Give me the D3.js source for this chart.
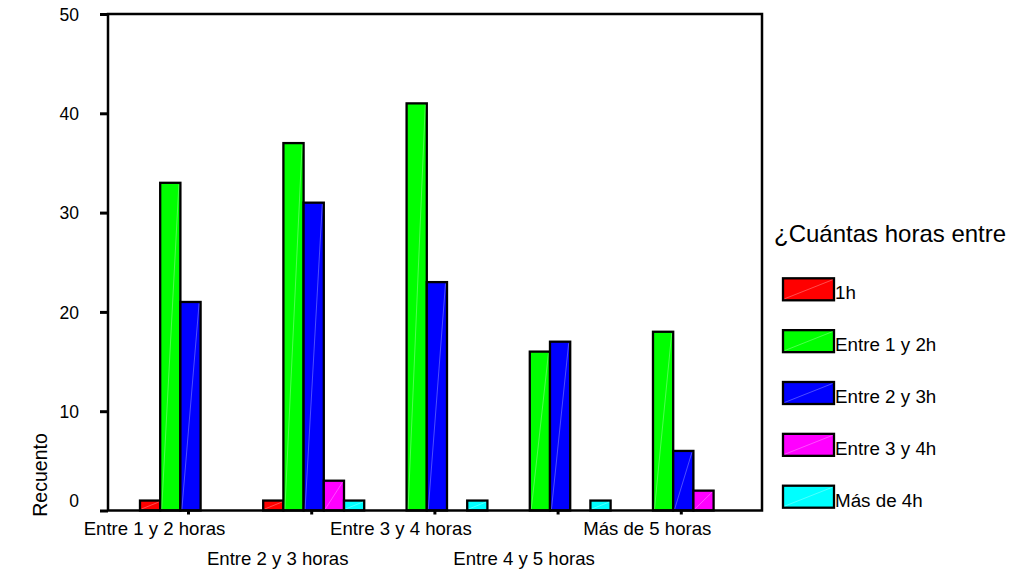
<!DOCTYPE html>
<html>
<head>
<meta charset="utf-8">
<script src="https://cdn.jsdelivr.net/npm/d3@7"></script>
<style>
  html, body { margin: 0; padding: 0; background: #fff; }
  svg { display: block; font-family: Arial, "Liberation Sans", sans-serif; }
</style>
</head>
<body>
<svg id="chart" width="1015" height="572"></svg>
<script>
// ---- data ----
const categories = ["Entre 1 y 2 horas", "Entre 2 y 3 horas", "Entre 3 y 4 horas", "Entre 4 y 5 horas", "Más de 5 horas"];
const seriesNames = ["1h", "Entre 1 y 2h", "Entre 2 y 3h", "Entre 3 y 4h", "Más de 4h"];
const seriesColors = ["#ff0000", "#00ff00", "#0000ff", "#ff00ff", "#00ffff"];
const s1h      = [1, 1, 0, 0, 0];
const s1a2h    = [33, 37, 41, 16, 18];
const s2a3h    = [21, 31, 23, 17, 6];
const s3a4h    = [0, 3, 0, 0, 2];
const sMas4h   = [0, 1, 1, 1, 0];
const yTicks = [0, 10, 20, 30, 40, 50];
const yTitle = "Recuento";
const legendTitle = "¿Cuántas horas entre";

const seriesValues = [s1h, s1a2h, s2a3h, s3a4h, sMas4h];

const svg = d3.select("#chart");

// frame
const L = 108, R = 762, T = 14, B = 510.5;

const x = d3.scaleBand().domain(categories).range([128.9, 744.9]).paddingInner(0.18).paddingOuter(0.09);
const xs = d3.scaleBand().domain(seriesNames).range([0, x.bandwidth()]);
const y = d3.scaleLinear().domain([0, 50]).range([B, T]);
const color = d3.scaleOrdinal().domain(seriesNames).range(seriesColors);

// bars
const barData = [];
categories.forEach((c, i) => {
  seriesNames.forEach((s, j) => {
    const v = seriesValues[j][i];
    if (v > 0) barData.push({ c, s, v });
  });
});

const bars = svg.append("g").selectAll("g").data(barData).join("g");
bars.append("rect")
  .attr("x", d => x(d.c) + xs(d.s))
  .attr("y", d => y(d.v))
  .attr("width", xs.bandwidth())
  .attr("height", d => y(0) - y(d.v))
  .attr("fill", d => color(d.s))
  .attr("stroke", "#000")
  .attr("stroke-width", 2.3);
bars.append("line")
  .attr("x1", d => x(d.c) + xs(d.s) + 1.5)
  .attr("y1", d => y(0) - 1.5)
  .attr("x2", d => x(d.c) + xs(d.s) + xs.bandwidth() - 1.5)
  .attr("y2", d => y(d.v) + 1.5)
  .attr("stroke", "#fff")
  .attr("stroke-opacity", 0.3)
  .attr("stroke-width", 1);

// frame
svg.append("rect")
  .attr("x", L).attr("y", T).attr("width", R - L).attr("height", B - T)
  .attr("fill", "none").attr("stroke", "#000").attr("stroke-width", 2.5);

// y axis
const yAxis = svg.append("g")
  .attr("transform", `translate(${L},0)`)
  .call(d3.axisLeft(y).tickValues(yTicks).tickSize(8).tickPadding(21).tickFormat(d3.format("d")));
yAxis.select(".domain").remove();
yAxis.selectAll(".tick line").attr("stroke", "#000").attr("stroke-width", 3);
yAxis.selectAll(".tick text")
  .attr("fill", "#000")
  .style("font-size", "17.5px")
  .attr("dy", d => d === 0 ? "-0.25em" : "0.35em");

// y title
svg.append("text")
  .attr("transform", `translate(47,475) rotate(-90)`)
  .attr("text-anchor", "middle")
  .style("font-size", "19.5px")
  .text(yTitle);

// x ticks & labels
const tickX = c => x(c) + x.bandwidth() / 2 - 2;
const xg = svg.append("g");
xg.selectAll("line").data(categories).join("line")
  .attr("x1", tickX).attr("x2", tickX)
  .attr("y1", B).attr("y2", B + 4)
  .attr("stroke", "#000").attr("stroke-width", 3);
xg.selectAll("text").data(categories).join("text")
  .attr("x", c => tickX(c) - 34)
  .attr("y", (c, i) => i % 2 === 0 ? 535 : 565)
  .attr("text-anchor", "middle")
  .style("font-size", "18.6px")
  .text(c => c);

// legend
const lg = svg.append("g");
lg.append("text")
  .attr("x", 774).attr("y", 242)
  .style("font-size", "24px")
  .text(legendTitle);
const ly = d3.scalePoint().domain(seriesNames).range([278.3, 485.7]);
const items = lg.selectAll("g.item").data(seriesNames).join("g").attr("class", "item");
items.append("rect")
  .attr("x", 783).attr("y", d => ly(d))
  .attr("width", 51).attr("height", 22)
  .attr("fill", d => color(d))
  .attr("stroke", "#000").attr("stroke-width", 2.3);
items.append("line")
  .attr("x1", 784.5).attr("y1", d => ly(d) + 20.5)
  .attr("x2", 832.5).attr("y2", d => ly(d) + 1.5)
  .attr("stroke", "#fff").attr("stroke-opacity", 0.3).attr("stroke-width", 1);
items.append("text")
  .attr("x", 835).attr("y", d => ly(d) + 21)
  .style("font-size", "18.8px")
  .text(d => d);
</script>
</body>
</html>
